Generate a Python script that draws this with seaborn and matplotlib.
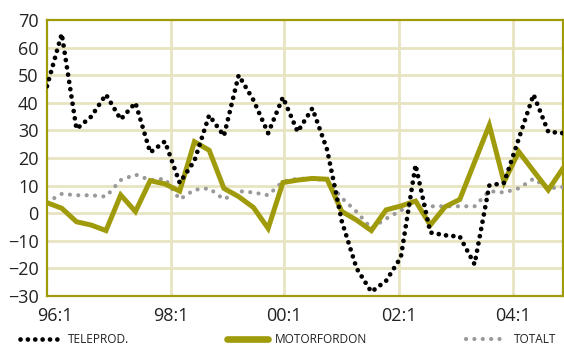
import numpy as np
import pandas as pd
import matplotlib
matplotlib.use("Agg")
import matplotlib.pyplot as plt
import seaborn as sns

# kvartal 96:1 - 04:4
years = ["96", "97", "98", "99", "00", "01", "02", "03", "04"]
quarters = [y + ":" + str(q) for y in years for q in range(1, 5)]

teleprod = [46, 65, 30.5, 35, 43, 34, 40, 22, 26, 11, 19, 35.5,
            28, 50, 41, 29, 42, 29.5, 38, 23, -3, -20, -28.5, -24.5,
            -16, 17.5, -7, -8, -8.5, -18.5, 10, 11, 27, 43, 29.5, 29]
motorfordon = [3.8, 1.8, -3.1, -4.3, -6.3, 6.6, 0.6, 11.8, 10.6, 8.0, 25.9, 22.8,
               9.0, 6.0, 2.1, -5.5, 11.1, 12.0, 12.6, 12.3, 0.6, -2.5, -6.3, 1.2,
               2.6, 4.4, -4.3, 2.3, 5.0, 18.5, 31.9, 11.3, 22.3, 15.3, 8.4, 16.3]
totalt = [4, 7, 6.5, 6.5, 6, 12, 14, 12, 12.5, 5, 8.5, 9,
          5, 8, 7.5, 6.5, 11.5, 12.5, 12.5, 12, 5.5, 0.5, -5.5, -2,
          1, 4, 2.5, 2.5, 2.5, 2.5, 8, 7.5, 9, 12.5, 9, 9.5]

tick_labels = ["96:1", "98:1", "00:1", "02:1", "04:1"]

df = pd.DataFrame({"kvartal": quarters, "TELEPROD.": teleprod,
                   "MOTORFORDON": motorfordon, "TOTALT": totalt})
df["pos"] = np.arange(len(df))

olive = "#A09B0B"
grid_c = "#E8E4C2"

sns.set_style("white")
plt.rcParams["font.family"] = ["Open Sans", "DejaVu Sans"]

fig = plt.figure(figsize=(5.64, 3.52), dpi=100)
ax = fig.add_axes([47 / 564, 56 / 352, 516 / 564, 276 / 352])

sns.lineplot(data=df, x="pos", y="TOTALT", ax=ax, color="#9A9A9A", lw=3,
             linestyle=(0, (0.01, 2.0)), dash_capstyle="round", label="TOTALT", zorder=3)
sns.lineplot(data=df, x="pos", y="MOTORFORDON", ax=ax, color=olive, lw=3.6,
             solid_joinstyle="miter", label="MOTORFORDON", zorder=4)
sns.lineplot(data=df, x="pos", y="TELEPROD.", ax=ax, color="black", lw=3.4,
             linestyle=(0, (0.01, 1.55)), dash_capstyle="round", label="TELEPROD.", zorder=5)

ax.set_xlim(0, len(df) - 1)
ax.set_ylim(-30, 70)
ax.set_yticks(np.arange(-30, 71, 10))

# rutnät, etiketter mitt på varje 8:e kvartal
tick_pos = [0.56, 8.4, 16.1, 23.9, 31.6]
for yv in range(-20, 70, 10):
    ax.axhline(yv, color=grid_c, lw=2, zorder=1)
for xv in tick_pos[1:]:
    ax.axvline(xv, color=grid_c, lw=2, zorder=1)

ax.set_xticks(tick_pos)
ax.set_xticklabels(tick_labels)
ax.tick_params(axis="both", length=0, labelsize=13, colors="#222222")
ax.tick_params(axis="y", pad=6)
ax.tick_params(axis="x", pad=8)
ax.set_xlabel("")
ax.set_ylabel("")

for s in ax.spines.values():
    s.set_visible(True)
    s.set_color(olive)
    s.set_linewidth(1.6)

h, l = ax.get_legend_handles_labels()
ax.get_legend().remove()
order = [2, 1, 0]
leg = fig.legend([h[i] for i in order], [l[i] for i in order],
                 loc="lower left", bbox_to_anchor=(14 / 564, 0.0, 548 / 564, 0.05),
                 mode="expand", ncol=3, frameon=False, fontsize=8.6,
                 handlelength=3.4, handletextpad=0.6, borderaxespad=0.1,
                 labelcolor="#222222")
leg.get_lines()[1].set_linewidth(4.8)
leg.get_lines()[1].set_solid_capstyle("round")

fig.savefig("out.png", dpi=100)
